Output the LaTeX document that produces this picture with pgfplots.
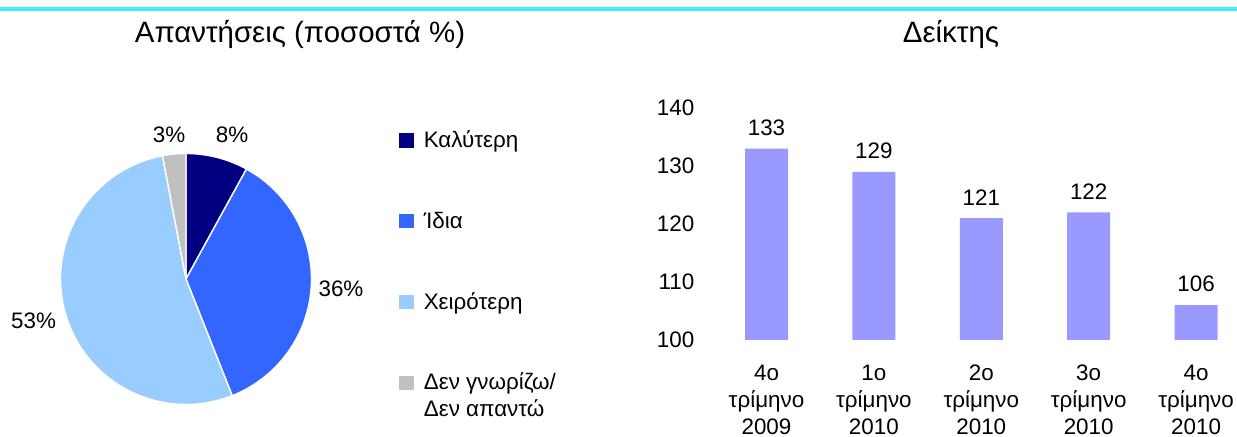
\documentclass[border=0pt]{standalone}
\usepackage{fontspec}
\setmainfont{Liberation Sans}
\usepackage{pgfplots}
\pgfplotsset{compat=1.18}
\definecolor{navy}{RGB}{0,0,128}
\definecolor{blu}{RGB}{51,102,255}
\definecolor{lblu}{RGB}{153,204,255}
\definecolor{gry}{RGB}{192,192,192}
\definecolor{barc}{RGB}{153,153,255}
\definecolor{cyanline}{RGB}{64,240,240}
\newcommand{\fs}{\fontsize{11.2}{13.5}\selectfont}
\begin{document}
\begin{tikzpicture}
\useasboundingbox (0,0) rectangle (618.5pt,218.5pt);
\draw[cyanline, line width=1.6pt] (0,214pt) -- (618.5pt,214pt);
\node[font=\fontsize{14.7}{17}\selectfont] at (150pt,201.5pt) {Απαντήσεις (ποσοστά \%)};
\node[font=\fontsize{14.7}{17}\selectfont] at (475.5pt,201.5pt) {Δείκτης};

\begin{axis}[
  at={(93pt,79pt)}, anchor=center,
  scale only axis, width=125.5pt, height=125.5pt,
  xmin=-1, xmax=1, ymin=-1, ymax=1,
  hide axis, clip=false,
  legend style={draw=none, fill=none, inner sep=0pt, row sep=25.9pt,
    font=\fs,
    at={(1.3486,1.113)}, anchor=north west,
    cells={anchor=base west, inner sep=0pt, text height=9pt, text depth=3pt},
    /tikz/every odd column/.append style={column sep=3pt}},
  legend image code/.code={\fill[#1, draw=none] (0pt,0pt) rectangle (7.2pt,7.2pt);},
]
\addplot[fill=navy, draw=white, line width=0.7pt, variable=\t, samples at={-1,0,1,...,61}]
  ({(\t<0 || \t>60) ? 0 : cos(90-3.6*(0+8*\t/60))}, {(\t<0 || \t>60) ? 0 : sin(90-3.6*(0+8*\t/60))});
\addlegendentry{Καλύτερη}
\addplot[fill=blu, draw=white, line width=0.7pt, variable=\t, samples at={-1,0,1,...,61}]
  ({(\t<0 || \t>60) ? 0 : cos(90-3.6*(8+36*\t/60))}, {(\t<0 || \t>60) ? 0 : sin(90-3.6*(8+36*\t/60))});
\addlegendentry{Ίδια}
\addplot[fill=lblu, draw=white, line width=0.7pt, variable=\t, samples at={-1,0,1,...,61}]
  ({(\t<0 || \t>60) ? 0 : cos(90-3.6*(44+53*\t/60))}, {(\t<0 || \t>60) ? 0 : sin(90-3.6*(44+53*\t/60))});
\addlegendentry{Χειρότερη}
\addplot[fill=gry, draw=white, line width=0.7pt, variable=\t, samples at={-1,0,1,...,61}]
  ({(\t<0 || \t>60) ? 0 : cos(90-3.6*(97+3*\t/60))}, {(\t<0 || \t>60) ? 0 : sin(90-3.6*(97+3*\t/60))});
\addlegendentry{\begin{tabular}[t]{@{}l@{}}Δεν γνωρίζω/\\Δεν απαντώ\end{tabular}}
\node[font=\fs] at (axis cs:0.367,1.147) {8\%};
\node[font=\fs] at (axis cs:-0.135,1.147) {3\%};
\node[font=\fs] at (axis cs:1.235,-0.08) {36\%};
\node[font=\fs] at (axis cs:-1.215,-0.335) {53\%};
\end{axis}

\begin{axis}[
  at={(356.4pt,48.5pt)}, anchor=south west,
  scale only axis, width=265.8pt, height=116pt,
  xmin=-0.5, xmax=4.45, ymin=100, ymax=140,
  ytick={100,110,120,130,140},
  xtick=data,
  xticklabels={{4ο\\τρίμηνο\\2009},{1ο\\τρίμηνο\\2010},{2ο\\τρίμηνο\\2010},{3ο\\τρίμηνο\\2010},{4ο\\τρίμηνο\\2010}},
  axis line style={draw=none}, major tick length=0pt,
  /pgf/number format/assume math mode=true,
  ticklabel style={font=\fs},
  yticklabel style={xshift=-5.7pt},
  xticklabel style={align=center, yshift=-8.8pt, font=\fontsize{11.2}{13.6}\selectfont},
  ybar, bar width=21.5pt, bar shift=0pt,
  nodes near coords,
  every node near coord/.append style={font=\fs, yshift=3pt},
]
\addplot[fill=barc, draw=none] coordinates {(0,133) (1,129) (2,121) (3,122) (4,106)};
\end{axis}
\end{tikzpicture}
\end{document}
